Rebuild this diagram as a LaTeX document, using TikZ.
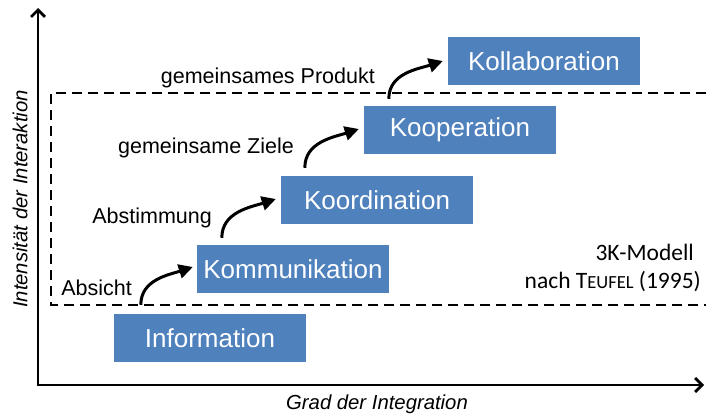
\documentclass[tikz,border=0pt]{standalone}
\usepackage{fontspec}
\setmainfont{Liberation Sans}
\newfontfamily\calib{Carlito}
\usetikzlibrary{arrows.meta}
\definecolor{stageblue}{HTML}{4F81BD}
\begin{document}
\begin{tikzpicture}[x=1pt,y=-1pt,
  stage/.style={fill=stageblue, text=white, minimum width=192pt, minimum height=48pt,
    inner sep=0pt, font=\fontsize{26}{30}\selectfont},
  steplabel/.style={anchor=base east, inner sep=0pt, font=\fontsize{21.5}{25}\selectfont},
  axislabel/.style={inner sep=0pt, font=\fontsize{20.3}{24}\selectfont\itshape},
  axis/.style={line width=2.8pt, -{Straight Barb[length=7pt,width=14pt,line width=2.8pt]}},
  advance/.style={line width=3pt, -{Triangle[length=14pt,width=14pt]}},
  zone/.style={line width=2.4pt, dash pattern=on 10pt off 6pt}]
\useasboundingbox (0,0) rectangle (706,415);

% axes
\coordinate (origin) at (38,385);
\coordinate (ytop) at (38,8);
\coordinate (xend) at (704,385);
\draw[axis] (origin) -- (ytop);
\draw[axis] ([xshift=-1.4pt]origin) -- (xend);
\node[axislabel, rotate=90] (ylab) at (20,199) {Intensität der Interaktion};
\node[axislabel] (xlab) at (377,404) {Grad der Integration};

% dashed zone (open to the right)
\coordinate (zoneTR) at (706,93);
\coordinate (zoneTL) at (51,93);
\coordinate (zoneBL) at (51,305);
\coordinate (zoneBR) at (706,305);
\draw[zone] (zoneTR) -- (zoneTL) -- (zoneBL) -- (zoneBR);

% stages
\node[stage] (info)  at (210,338) {Information};
\node[stage] (komm)  at (293,269) {Kommunikation};
\node[stage] (koord) at (377,200) {Koordination};
\node[stage] (koop)  at (460,130) {Kooperation};
\node[stage] (koll)  at (544,61)  {Kollaboration};

% transitions
\draw[advance] ([xshift=27pt,yshift=9pt]info.north west) to[out=90,in=198] ([xshift=-4pt,yshift=2pt]komm.west);
\draw[advance] ([xshift=25pt,yshift=7pt]komm.north west) to[out=90,in=198] ([xshift=-5pt,yshift=1pt]koord.west);
\draw[advance] ([xshift=24pt,yshift=8pt]koord.north west) to[out=90,in=198] ([xshift=-5pt,yshift=1pt]koop.west);
\draw[advance] ([xshift=25pt,yshift=7pt]koop.north west) to[out=90,in=198] ([xshift=-5pt]koll.west);

% transition labels
\node[steplabel] (l1) at (132,295) {Absicht};
\node[steplabel] (l2) at (212,223) {Abstimmung};
\node[steplabel] (l3) at (294,153) {gemeinsame Ziele};
\node[steplabel] (l4) at (375,83)  {gemeinsames Produkt};

% model note
\node[anchor=base east, inner sep=0pt, font=\calib\fontsize{23.5}{28}\selectfont] (m1) at (694,260) {3K-Modell};
\node[anchor=base east, inner sep=0pt, font=\calib\fontsize{23.5}{28}\selectfont] (m2) at (701,288)
  {nach T{\fontsize{18.5}{22}\selectfont EUFEL} (1995)};
\end{tikzpicture}
\end{document}
